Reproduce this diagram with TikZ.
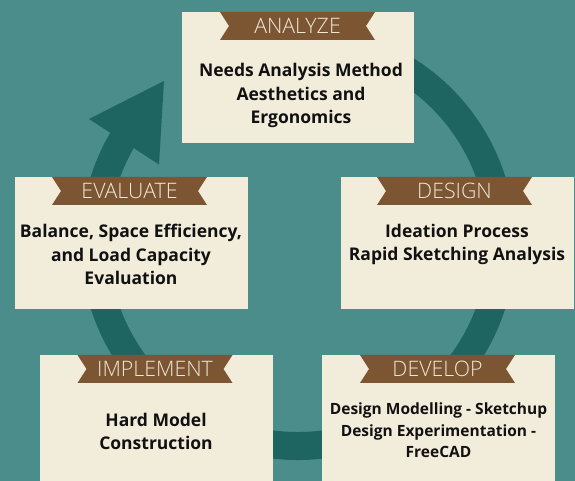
\documentclass[tikz,border=0pt]{standalone}
\usepackage{fontspec}
\setmainfont{Open Sans}
\newfontfamily\bannerfont{Open Sans Light}
\definecolor{bgteal}{HTML}{4A8D8A}
\definecolor{ringteal}{HTML}{1E6562}
\definecolor{cream}{HTML}{F2ECDB}
\definecolor{ribbon}{HTML}{7C5633}
\definecolor{ribbontext}{HTML}{EFE8D8}
\definecolor{ink}{HTML}{111111}
\tikzset{
  card/.style={fill=cream, draw=none},
  ribbonlabel/.style={
    minimum width=155pt, minimum height=28pt, inner sep=0pt,
    text=ribbontext, font={\bannerfont\fontsize{21.3}{24}\selectfont},
    path picture={
      \fill[ribbon] (path picture bounding box.north west)
        -- (path picture bounding box.north east)
        -- ([xshift=-9pt]path picture bounding box.east)
        -- (path picture bounding box.south east)
        -- (path picture bounding box.south west)
        -- ([xshift=9pt]path picture bounding box.west) -- cycle;
    }},
  % anchor=base sits on the last line's baseline
  bodytext/.style={align=center, anchor=base, text=ink, inner sep=0pt,
    font={\bfseries\fontsize{17.5}{23.6}\selectfont}},
  smallbody/.style={bodytext, font={\bfseries\fontsize{15.5}{21.5}\selectfont}},
  cycleband/.style={draw=ringteal, line width=28pt}
}
\begin{document}
\begin{tikzpicture}[x=1pt,y=1pt]
  \useasboundingbox (0,0) rectangle (575,481);
  \clip (0,0) rectangle (575,481);
  \fill[bgteal] (0,0) rectangle (575,481);

  % circular flow band with its arrowhead
  \coordinate (c) at (298,238.5);
  \draw[cycleband] (c) ++(100:203.5) arc[start angle=100, end angle=-211, radius=203.5];
  \fill[ringteal] (164,400) -- (89,362) -- (159,316.5) -- cycle;

  % cards
  \fill[card] (182,338) rectangle (414,469);
  \fill[card] (15,172) rectangle (248,304);
  \fill[card] (341,172) rectangle (574,304);
  \fill[card] (40,-6) rectangle (273,126);
  \fill[card] (322,-6) rectangle (555,126);

  % ribbons
  \node[ribbonlabel] (analyze) at (297.5,455) {ANALYZE};
  \node[ribbonlabel] (evaluate) at (129.5,290) {EVALUATE};
  \node[ribbonlabel] (design) at (454.5,290) {DESIGN};
  \node[ribbonlabel] (implement) at (155,112) {IMPLEMENT};
  \node[ribbonlabel] (develop) at (437.5,112) {DEVELOP};

  % card texts
  \node[bodytext] (analyzetxt) at (301,357) {Needs Analysis Method\\Aesthetics and\\Ergonomics};
  \node[bodytext] (evaluatetxt) at (131,196) {Balance, Space Efficiency,\\and Load Capacity\\Evaluation};
  \node[bodytext] (designtxt) at (457,220) {Ideation Process\\Rapid Sketching Analysis};
  \node[bodytext] (implementtxt) at (156,31) {Hard Model\\Construction};
  \node[smallbody] (developtxt) at (438.5,23) {Design Modelling - Sketchup\\Design Experimentation -\\FreeCAD};
\end{tikzpicture}
\end{document}
